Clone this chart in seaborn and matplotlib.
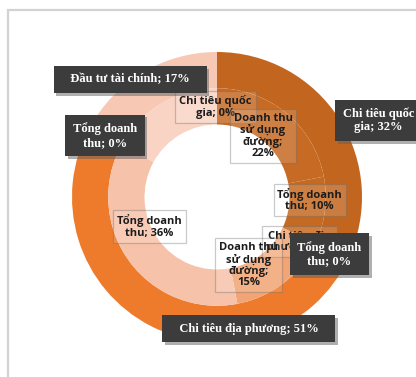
import textwrap

import matplotlib
matplotlib.use("Agg")
import matplotlib.pyplot as plt
import matplotlib.patheffects as pe
from matplotlib.patches import Rectangle
import numpy as np
import seaborn as sns

# Outer ring: spending / investment groups
outer_labels = ["Chi tiêu quốc gia", "Tổng doanh thu", "Chi tiêu địa phương",
                "Tổng doanh thu", "Đầu tư tài chính"]
outer_values = [32, 0, 51, 0, 17]

# Inner ring: revenue split inside each group
inner_labels = ["Chi tiêu quốc gia", "Doanh thu sử dụng đường", "Tổng doanh thu",
                "Chi tiêu địa phương", "Doanh thu sử dụng đường", "Tổng doanh thu",
                "Đầu tư tài chính"]
inner_values = [0, 22, 10, 0, 15, 36, 17]
inner_shown = [True, True, True, True, True, True, False]

outer_colors = ["#c2661f", "#c2661f", "#ee7b2b", "#f7c9b4", "#f7c9b4"]
inner_colors = ["#c66a24", "#c66a24", "#c56a22", "#f2a474", "#f2a474", "#f6c2a9", "#f9d4c4"]

sns.set_theme(style="white")
plt.rcParams["font.family"] = ["Open Sans", "DejaVu Sans"]

W, H = 416, 377
fig = plt.figure(figsize=(W / 100, H / 100), dpi=100)
fig.patch.set_facecolor("white")
ax = fig.add_axes([0, 0, 1, 1])

R = 1.0
ring = 0.25
ax.pie(outer_values, radius=R, startangle=90, counterclock=False,
       colors=outer_colors, wedgeprops=dict(width=ring, linewidth=0))
ax.pie(inner_values, radius=R - ring, startangle=90, counterclock=False,
       colors=inner_colors, wedgeprops=dict(width=ring, linewidth=0))

# pixel-consistent view: centre of the ring and 145 px per unit
cx, cy, scale = 217, 197, 145
ax.set_xlim(-cx / scale, (W - cx) / scale)
ax.set_ylim(-(H - cy) / scale, cy / scale)
ax.set_aspect("auto")
ax.axis("off")


def mid_angle(values, i):
    total = float(sum(values))
    start = sum(values[:i]) / total
    return 360.0 * (start + values[i] / total / 2.0)


def polar(angle, r):
    a = np.deg2rad(angle)
    return r * np.sin(a), r * np.cos(a)


# label layout: radius, nudge (dx, dy), wrap width
inner_layout = [
    (0.62, (-0.01, 0.00), 13),
    (0.545, (-0.03, 0.00), 9),
    (0.645, (0.00, 0.06), 10),
    (0.65, (-0.02, -0.03), 12),
    (0.52, (-0.10, -0.06), 9),
    (0.50, (-0.06, 0.09), 10),
    (0.0, (0.0, 0.0), 10),
]
outer_layout = [
    (1.23, (0.075, -0.13), 13),
    (0.88, (-0.02, -0.02), 10),
    (0.93, (0.64, -0.08), 40),
    (0.87, (-0.01, 0.005), 10),
    (1.00, (-0.09, -0.05), 40),
]

shadow_dark = [pe.withSimplePatchShadow(offset=(2, -2), shadow_rgbFace="#606060", alpha=0.5)]

for i, (name, val) in enumerate(zip(inner_labels, inner_values)):
    if not inner_shown[i]:
        continue
    r, (dx, dy), wrap = inner_layout[i]
    x, y = polar(mid_angle(inner_values, i), r)
    txt = "\n".join(textwrap.wrap(f"{name}; {val}%", wrap))
    ax.text(x + dx, y + dy, txt, ha="center", va="center", multialignment="center",
            fontsize=8, fontweight="bold", color="#1c1c1c", linespacing=1.05,
            bbox=dict(boxstyle="square,pad=0.35", facecolor=(1, 1, 1, 0.15),
                      edgecolor=(0.4, 0.4, 0.4, 0.35), linewidth=0.9))

for i, (name, val) in enumerate(zip(outer_labels, outer_values)):
    r, (dx, dy), wrap = outer_layout[i]
    x, y = polar(mid_angle(outer_values, i), r)
    lines = textwrap.wrap(f"{name}; {val}%", wrap)
    if len(lines) == 1:
        txt = f"   {lines[0]}   "
    else:
        txt = "\n".join(lines)
    t = ax.text(x + dx, y + dy, txt, ha="center", va="center", multialignment="center",
                fontsize=9, fontweight="bold", color="white",
                family=["Liberation Serif", "DejaVu Serif"], linespacing=1.2,
                bbox=dict(boxstyle="square,pad=0.6", facecolor="#3c3c3c", edgecolor="none"))
    t.get_bbox_patch().set_path_effects(shadow_dark)

# chart area border
fig.patches.append(Rectangle((8 / W, -0.1), 1.2, 1.1 - 10 / H, transform=fig.transFigure,
                             fill=False, edgecolor="#d2d2d2", linewidth=1.6))

fig.savefig("out.png", dpi=100, facecolor="white")
